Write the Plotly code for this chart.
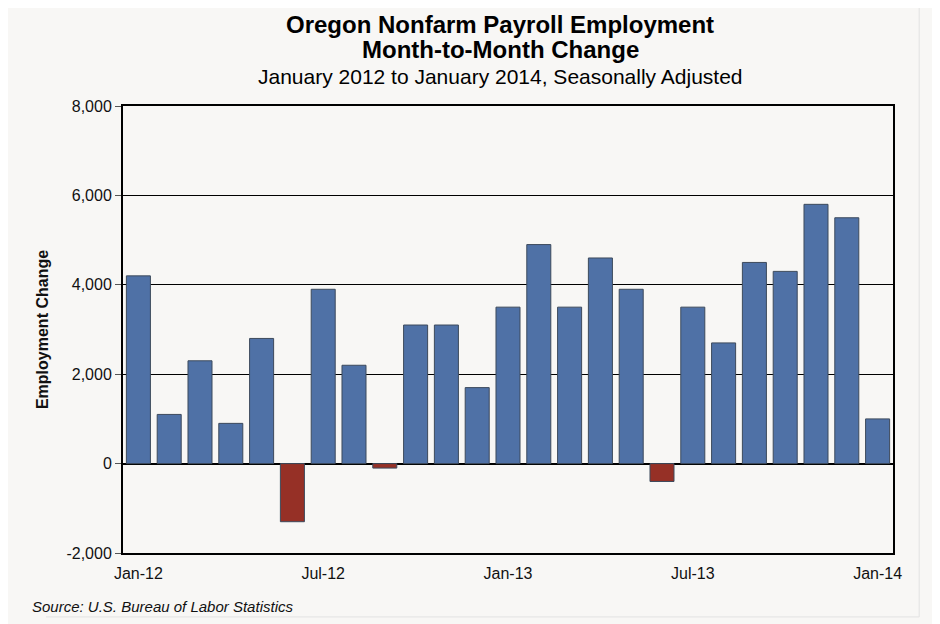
import plotly.graph_objects as go

months = ["Jan-12", "Feb-12", "Mar-12", "Apr-12", "May-12", "Jun-12",
          "Jul-12", "Aug-12", "Sep-12", "Oct-12", "Nov-12", "Dec-12",
          "Jan-13", "Feb-13", "Mar-13", "Apr-13", "May-13", "Jun-13",
          "Jul-13", "Aug-13", "Sep-13", "Oct-13", "Nov-13", "Dec-13",
          "Jan-14"]
change = [4200, 1100, 2300, 900, 2800, -1300,
          3900, 2200, -100, 3100, 3100, 1700,
          3500, 4900, 3500, 4600, 3900, -400,
          3500, 2700, 4500, 4300, 5800, 5500,
          1000]
tick_labels = ["Jan-12", "Jul-12", "Jan-13", "Jul-13", "Jan-14"]
y_ticks = [-2000, 0, 2000, 4000, 6000, 8000]
y_tick_labels = ["-2,000", "0", "2,000", "4,000", "6,000", "8,000"]

BLUE = "#4f71a6"
RED = "#963026"
BG = "#f8f7f5"
FONT = "Liberation Sans, Arial, sans-serif"

colors = [BLUE if v >= 0 else RED for v in change]

fig = go.Figure(go.Bar(
    x=months, y=change,
    marker=dict(color=colors, line=dict(color="#3d4a5c", width=1)),
    width=0.78,
))

# page body has an 8px margin, so the figure is shrunk by 8px to fit the window
fig.update_layout(
    width=932, height=616,
    margin=dict(l=115, r=47, t=98, b=71),
    paper_bgcolor=BG, plot_bgcolor=BG,
    showlegend=False,
    font=dict(family=FONT, size=16, color="#111"),
    xaxis=dict(
        type="category", range=[-0.5, 24.5],
        tickvals=tick_labels, ticktext=tick_labels,
        showgrid=False, ticks="outside", ticklen=5, tickcolor=BG,
        tickfont=dict(size=16),
        showline=True, linecolor="black", linewidth=2, mirror=True,
    ),
    yaxis=dict(
        range=[-2000, 8000], tickvals=y_ticks, ticktext=y_tick_labels,
        showgrid=True, gridcolor="black", gridwidth=1,
        zeroline=True, zerolinecolor="black", zerolinewidth=2,
        ticks="outside", ticklen=6, tickcolor="#555",
        tickfont=dict(size=16),
        showline=True, linecolor="black", linewidth=2, mirror=True,
        title=dict(text="<b>Employment Change</b>", font=dict(size=16), standoff=14),
    ),
)

fig.add_annotation(text="<b>Oregon Nonfarm Payroll Employment</b>",
                   xref="paper", yref="paper", x=0.49, y=1.183, yanchor="middle",
                   showarrow=False, font=dict(size=24, color="black"))
fig.add_annotation(text="<b>Month-to-Month Change</b>",
                   xref="paper", yref="paper", x=0.49, y=1.126, yanchor="middle",
                   showarrow=False, font=dict(size=24, color="black"))
fig.add_annotation(text="January 2012 to January 2014, Seasonally Adjusted",
                   xref="paper", yref="paper", x=0.49, y=1.067, yanchor="middle",
                   showarrow=False, font=dict(size=21, color="black"))
fig.add_annotation(text="<i>Source: U.S. Bureau of Labor Statistics</i>",
                   xref="paper", yref="paper", x=-0.121, y=-0.119,
                   xanchor="left", yanchor="middle",
                   showarrow=False, font=dict(size=15, color="#111"))

# faint frame lines at the right and bottom of the original image
fig.add_shape(type="line", xref="paper", yref="paper",
              x0=1.034, x1=1.034, y0=-0.143, y1=1.24,
              line=dict(color="#e2e2e2", width=1))
fig.add_shape(type="line", xref="paper", yref="paper",
              x0=-0.1, x1=1.034, y0=-0.143, y1=-0.143,
              line=dict(color="#e2e2e2", width=1))

fig.write_html("out.html")
